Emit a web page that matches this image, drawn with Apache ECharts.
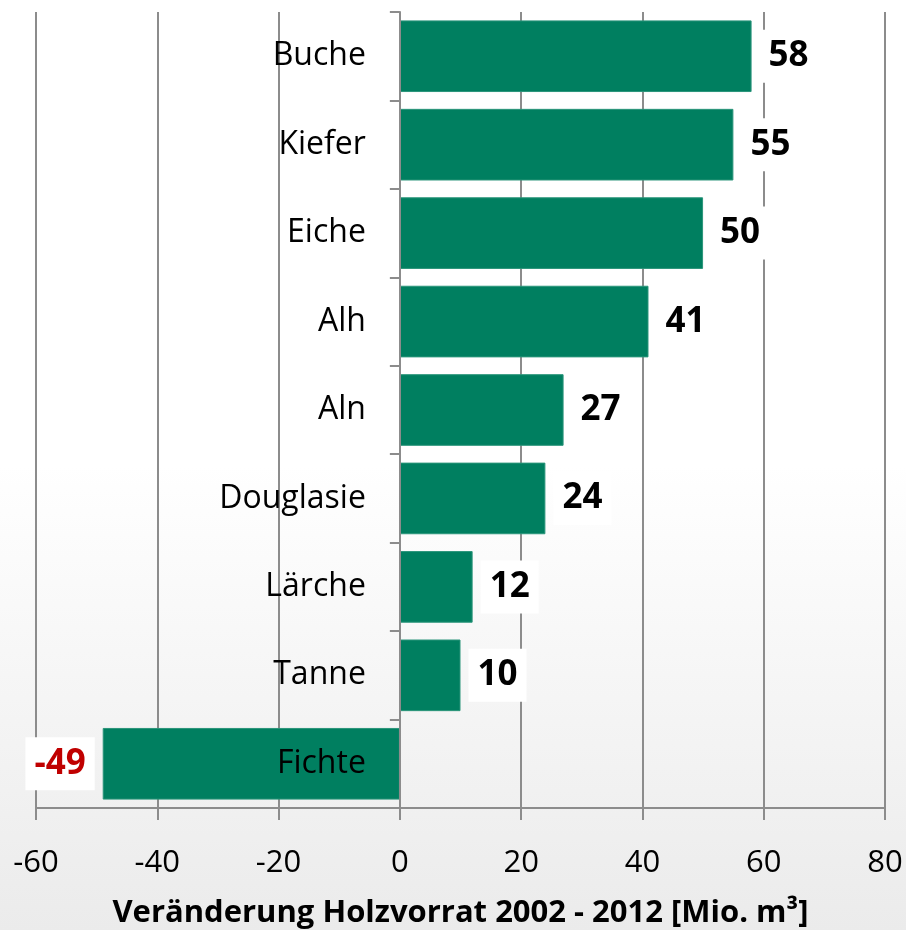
<!DOCTYPE html>
<html>
<head>
<meta charset="utf-8">
<script src="https://cdn.jsdelivr.net/npm/echarts@6/dist/echarts.min.js"></script>
<style>
  html, body { margin: 0; padding: 0; }
  #chart { width: 906px; height: 930px; }
</style>
</head>
<body>
<div id="chart"></div>
<script>
// Baumarten von oben nach unten
const categories = ['Buche', 'Kiefer', 'Eiche', 'Alh', 'Aln', 'Douglasie', 'Lärche', 'Tanne', 'Fichte']
const values = [58, 55, 50, 41, 27, 24, 12, 10, -49]
const xTicks = { min: -60, max: 80, interval: 20 }

const font = '"Open Sans", "Noto Sans", sans-serif'
const barColor = '#007f60'

const gridLeft = 36
const gridRight = 21
const width = 906
// Null-Linie in Pixel, damit die Kategorienamen rechtsbuendig davor stehen
const zeroX = gridLeft + (0 - xTicks.min) / (xTicks.max - xTicks.min) * (width - gridLeft - gridRight)

const chart = echarts.init(document.getElementById('chart'))

const seriesData = values.map(v => {
  const neg = v < 0
  return {
    value: v,
    label: {
      position: neg ? 'left' : 'right',
      color: neg ? '#c00000' : '#000'
    }
  }
})

chart.setOption({
  animation: false,
  backgroundColor: {
    type: 'linear', x: 0, y: 0, x2: 0, y2: 1,
    colorStops: [
      { offset: 0, color: '#ffffff' },
      { offset: 0.5, color: '#ffffff' },
      { offset: 1, color: '#ebebeb' }
    ]
  },
  grid: {
    left: gridLeft, right: gridRight, top: 12, bottom: 122,
    containLabel: false,
    outerBoundsMode: 'none'
  },
  xAxis: {
    type: 'value',
    min: xTicks.min,
    max: xTicks.max,
    interval: xTicks.interval,
    name: 'Veränderung Holzvorrat 2002 - 2012 [Mio. m³]',
    nameLocation: 'middle',
    nameGap: 90,
    nameTextStyle: { fontFamily: font, fontSize: 31, fontWeight: 'bold', color: '#000' },
    axisLine: { show: true, lineStyle: { color: '#8c8c8c', width: 2 } },
    axisTick: { show: true, length: 12, lineStyle: { color: '#8c8c8c', width: 2 } },
    axisLabel: { fontFamily: font, fontSize: 31, color: '#000', margin: 40 },
    splitLine: { show: true, lineStyle: { color: '#8c8c8c', width: 2 } }
  },
  yAxis: {
    type: 'category',
    inverse: true,
    data: categories,
    z: 10,
    axisLine: { show: true, onZero: true, lineStyle: { color: '#8c8c8c', width: 2 } },
    axisTick: { show: true, length: 10, lineStyle: { color: '#8c8c8c', width: 2 } },
    axisLabel: { fontFamily: font, fontSize: 32, color: '#000', margin: gridLeft - (zeroX - 34) },
    splitLine: { show: false }
  },
  series: [{
    type: 'bar',
    data: seriesData,
    barCategoryGap: '19%',
    itemStyle: { color: barColor, borderColor: '#2a957a', borderWidth: 1 },
    label: {
      show: true,
      distance: 8,
      fontFamily: font,
      fontSize: 35,
      fontWeight: 'bold',
      backgroundColor: '#ffffff',
      padding: [10, 9, 8, 9]
    }
  }]
})
</script>
</body>
</html>
